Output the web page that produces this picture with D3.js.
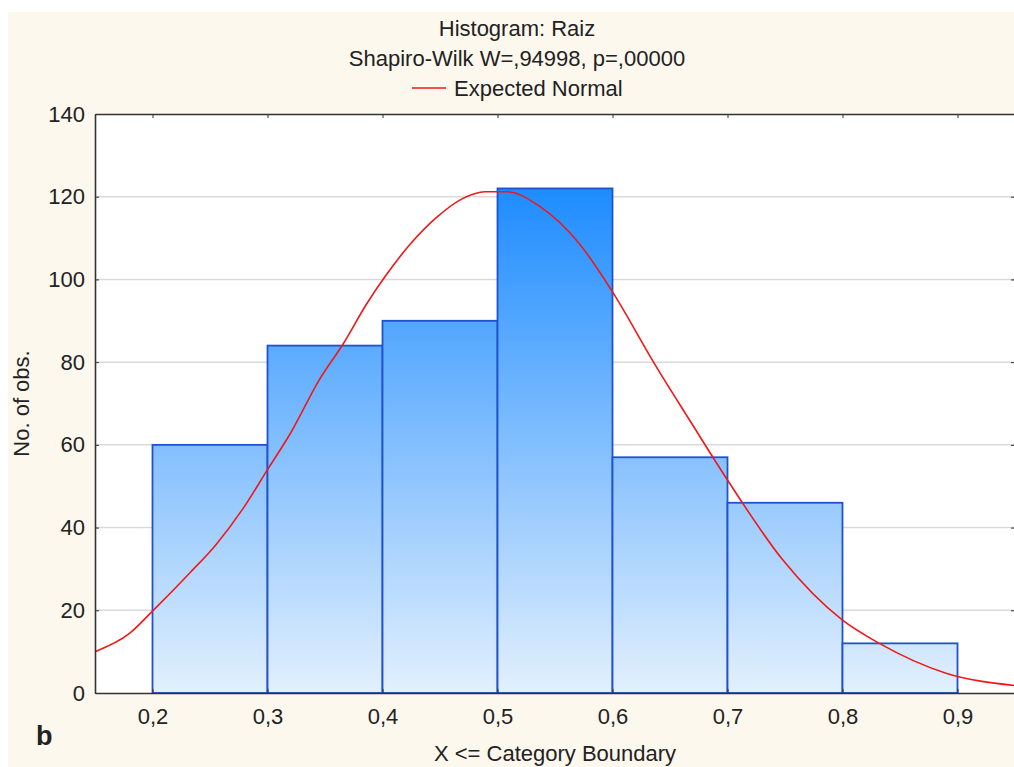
<!DOCTYPE html>
<html>
<head>
<meta charset="utf-8">
<script src="https://cdn.jsdelivr.net/npm/d3@7"></script>
<style>
  body { margin: 0; background: #fff; }
  text { font-family: "Liberation Sans", Arial, sans-serif; fill: #222; }
</style>
</head>
<body>
<svg id="chart" width="1014" height="767"></svg>
<script>
// Histogram bins (upper boundaries) and counts
const binStart = [0.2, 0.3, 0.4, 0.5, 0.6, 0.7, 0.8];
const binEnd = [0.3, 0.4, 0.5, 0.6, 0.7, 0.8, 0.9];
const counts = [60, 84, 90, 122, 57, 46, 12];

// Expected normal curve
const curveX = [0.15, 0.18, 0.20, 0.232, 0.255, 0.279, 0.30, 0.32, 0.345, 0.366, 0.386, 0.403, 0.424, 0.447, 0.47, 0.489, 0.508, 0.537, 0.571, 0.60, 0.638, 0.667, 0.70, 0.748, 0.80, 0.832, 0.89, 0.95];
const curveY = [10, 14.4, 19.8, 28.9, 35.8, 44.7, 54, 62.8, 75.7, 84.5, 94, 101, 108.5, 115, 119.6, 121.2, 121.2, 117.6, 108.7, 97, 78.9, 66, 51.5, 32.2, 17.6, 12, 4.8, 1.8];

// Tick labels
const xTicks = [0.2, 0.3, 0.4, 0.5, 0.6, 0.7, 0.8, 0.9];
const yTicks = [0, 20, 40, 60, 80, 100, 120, 140];

const svg = d3.select('#chart');
const margin = { top: 114, right: -1, bottom: 74, left: 95 };
const width = 1014 - margin.left - margin.right;
const height = 767 - margin.top - margin.bottom;

// background panel
svg.append('rect')
  .attr('x', 8).attr('y', 12)
  .attr('width', 1006).attr('height', 755)
  .attr('fill', '#fdf8ee');

const x = d3.scaleLinear().domain([0.15, 0.95]).range([0, width]);
const y = d3.scaleLinear().domain([0, 140]).range([height, 0]);
const fmt = (d) => d3.format('.1f')(d).replace('.', ',');

const g = svg.append('g')
  .attr('transform', `translate(${margin.left},${margin.top})`);

g.append('rect')
  .attr('width', width)
  .attr('height', height)
  .attr('fill', '#fff');

// gradient for the bars, in chart space
const grad = svg.append('defs').append('linearGradient')
  .attr('id', 'barGrad')
  .attr('gradientUnits', 'userSpaceOnUse')
  .attr('x1', 0).attr('x2', 0)
  .attr('y1', y(122)).attr('y2', y(0));
grad.append('stop').attr('offset', '0%').attr('stop-color', '#1e8cff');
grad.append('stop').attr('offset', '100%').attr('stop-color', '#e3f0fd');

// gridlines
g.append('g')
  .selectAll('line')
  .data(yTicks.slice(1, -1))
  .enter().append('line')
  .attr('x1', 0).attr('x2', width)
  .attr('y1', (d) => y(d)).attr('y2', (d) => y(d))
  .attr('stroke', '#d9d9d9')
  .attr('stroke-width', 1.5);

// bars
g.append('g')
  .selectAll('rect')
  .data(counts)
  .enter().append('rect')
  .attr('x', (d, i) => x(binStart[i]))
  .attr('y', (d) => y(d))
  .attr('width', (d, i) => x(binEnd[i]) - x(binStart[i]))
  .attr('height', (d) => y(0) - y(d))
  .attr('fill', 'url(#barGrad)')
  .attr('stroke', '#1f52cf')
  .attr('stroke-width', 1.8);

// expected normal curve
const line = d3.line()
  .x((d, i) => x(curveX[i]))
  .y((d) => y(d))
  .curve(d3.curveMonotoneX);

g.append('path')
  .datum(curveY)
  .attr('d', line)
  .attr('fill', 'none')
  .attr('stroke', '#f01818')
  .attr('stroke-width', 1.6);

// axes (ticks pointing inward)
const axisStyle = (sel) => {
  sel.select('.domain').attr('stroke', '#333').attr('stroke-width', 1.6);
  sel.selectAll('.tick line').attr('stroke', '#333');
  sel.selectAll('.tick text')
    .style('font-size', '22px')
    .style('font-family', '"Liberation Sans", Arial, sans-serif')
    .attr('fill', '#222');
};

g.append('g')
  .attr('transform', `translate(0,${height})`)
  .call(d3.axisBottom(x).tickValues(xTicks).tickFormat(fmt).tickSize(-4).tickSizeOuter(0).tickPadding(15))
  .call(axisStyle);

g.append('g')
  .call(d3.axisTop(x).tickValues(xTicks).tickFormat('').tickSize(-4).tickSizeOuter(0))
  .call(axisStyle);

g.append('g')
  .call(d3.axisLeft(y).tickValues(yTicks).tickSize(-4).tickSizeOuter(0).tickPadding(10))
  .call(axisStyle);

g.append('g')
  .attr('transform', `translate(${width},0)`)
  .call(d3.axisRight(y).tickValues(yTicks).tickFormat('').tickSize(-4).tickSizeOuter(0))
  .call(axisStyle);

// titles
svg.append('text')
  .attr('x', 517).attr('y', 36)
  .attr('text-anchor', 'middle')
  .style('font-size', '22px')
  .text('Histogram: Raiz');

svg.append('text')
  .attr('x', 517).attr('y', 66)
  .attr('text-anchor', 'middle')
  .style('font-size', '22px')
  .text('Shapiro-Wilk W=,94998, p=,00000');

// legend
svg.append('line')
  .attr('x1', 412).attr('x2', 446)
  .attr('y1', 88).attr('y2', 88)
  .attr('stroke', '#f01818')
  .attr('stroke-width', 1.6);

svg.append('text')
  .attr('x', 454).attr('y', 96)
  .style('font-size', '22px')
  .text('Expected Normal');

// axis titles
svg.append('text')
  .attr('x', margin.left + width / 2).attr('y', 761)
  .attr('text-anchor', 'middle')
  .style('font-size', '22px')
  .text('X <= Category Boundary');

svg.append('text')
  .attr('transform', `translate(29,${margin.top + height / 2}) rotate(-90)`)
  .attr('text-anchor', 'middle')
  .style('font-size', '22px')
  .text('No. of obs.');

// panel letter
svg.append('text')
  .attr('x', 36).attr('y', 745)
  .style('font-size', '27px')
  .style('font-weight', 'bold')
  .attr('fill', '#111')
  .text('b');
</script>
</body>
</html>
